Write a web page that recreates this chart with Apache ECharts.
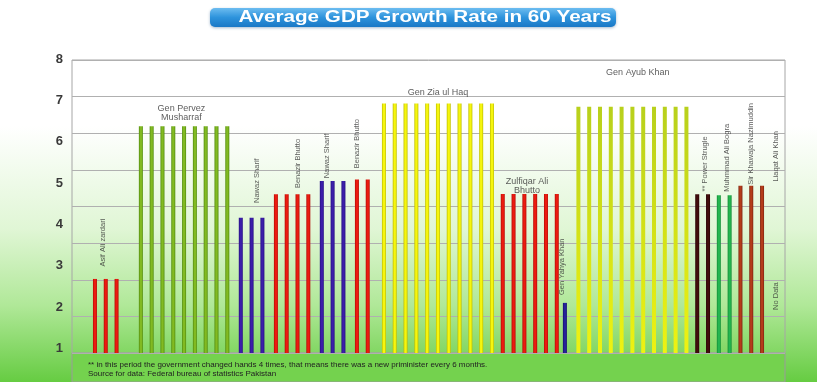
<!DOCTYPE html>
<html><head><meta charset="utf-8">
<script src="https://cdn.jsdelivr.net/npm/echarts@6/dist/echarts.min.js"></script>
<style>html,body{margin:0;padding:0;background:#fff}#c{width:817px;height:382px}</style>
</head><body><div id="c"></div>
<script>
// ---------------- DATA ----------------
const titleText = 'Average GDP Growth Rate in 60 Years';
const yTickLabels = [1, 2, 3, 4, 5, 6, 7, 8];
const leaderNames = ['Asif Ali zardari', 'Gen Pervez\nMusharraf', 'Nawaz Sharif', 'Benazir Bhutto',
  'Nawaz Sharif', 'Benazir Bhutto', 'Gen Zia ul Haq', 'Zulfiqar Ali\nBhutto', 'Gen Yahya Khan',
  'Gen Ayub Khan', '** Power Strugle', 'Muhmmad Ali Bogra', 'Sir Khawaja Nazimuddin', 'Liaqat Ali Khan'];
const zardariGrowth = [2.68, 2.68, 2.68];
const musharrafGrowth = [6.38, 6.38, 6.38, 6.38, 6.38, 6.38, 6.38, 6.38, 6.38];
const nawazSharif1Growth = [4.16, 4.16, 4.16];
const benazirBhutto1Growth = [4.73, 4.73, 4.73, 4.73];
const nawazSharif2Growth = [5.05, 5.05, 5.05];
const benazirBhutto2Growth = [5.09, 5.09];
const ziaGrowth = [6.93, 6.93, 6.93, 6.93, 6.93, 6.93, 6.93, 6.93, 6.93, 6.93, 6.93];
const zulfiqarGrowth = [4.74, 4.74, 4.74, 4.74, 4.74, 4.74];
const yahyaGrowth = [2.10];
const ayubGrowth = [6.85, 6.85, 6.85, 6.85, 6.85, 6.85, 6.85, 6.85, 6.85, 6.85, 6.85];
const powerStruggleGrowth = [4.73, 4.73];
const bograGrowth = [4.71, 4.71];
const nazimuddinGrowth = [4.94, 4.94, 4.94];
const liaqatGrowth = []; // no data
const noDataText = 'No Data';
const footnoteLines = [
  '** in this period the government changed hands 4 times, that means there was a new priminister every 6 months.',
  'Source for data: Federal bureau of statistics Pakistan'
];

// ---------------- LAYOUT ----------------
const PLOT = { left: 72, right: 785, top: 60, bottom: 353 };
const LABEL_AXIS = { top: 59.3, bottom: 348.3 };
const SLOTS = 264;
const FONT = "'Liberation Sans', Arial, sans-serif";

const yMinLab = yTickLabels[0], yMaxLab = yTickLabels[yTickLabels.length - 1];
const pxPerUnit = (LABEL_AXIS.bottom - LABEL_AXIS.top) / (yMaxLab - yMinLab);
const barAxisMin = yMinLab - (PLOT.bottom - LABEL_AXIS.bottom) / pxPerUnit;
const barAxisMax = yMaxLab + (LABEL_AXIS.top - PLOT.top) / pxPerUnit;

function cyl(main, edge) {
  return new echarts.graphic.LinearGradient(0, 0, 1, 0, [
    { offset: 0, color: edge }, { offset: 0.35, color: main },
    { offset: 0.65, color: main }, { offset: 1, color: edge }]);
}
const RED = cyl('#ec1b10', '#b20d06');
const INDIGO = cyl('#3c1eaa', '#241082');
const groupLayout = [
  { values: zardariGrowth, start: 8, fill: RED },
  { values: musharrafGrowth, start: 25, fill: cyl('#82ba22', '#4f8a0c') },
  { values: nawazSharif1Growth, start: 62, fill: INDIGO },
  { values: benazirBhutto1Growth, start: 75, fill: RED },
  { values: nawazSharif2Growth, start: 92, fill: INDIGO },
  { values: benazirBhutto2Growth, start: 105, fill: RED },
  { values: ziaGrowth, start: 115, fill: cyl('#f6f60e', '#bcbc00') },
  { values: zulfiqarGrowth, start: 159, fill: RED },
  { values: yahyaGrowth, start: 182, fill: cyl('#26229a', '#14106a') },
  { values: ayubGrowth, start: 187, fill: new echarts.graphic.LinearGradient(0, 0, 0, 1, [
      { offset: 0, color: '#b8d01c' }, { offset: 1, color: '#eef212' }]) },
  { values: powerStruggleGrowth, start: 231, fill: cyl('#420c0c', '#260404') },
  { values: bograGrowth, start: 239, fill: cyl('#24b650', '#128a34') },
  { values: nazimuddinGrowth, start: 247, fill: cyl('#b43c1a', '#7c2210') }
];
const STEP = 4;

const slotNames = Array.from({ length: SLOTS }, (_, i) => String(i));
const barData = new Array(SLOTS).fill(null);
groupLayout.forEach(g => {
  g.values.forEach((v, j) => {
    barData[g.start + j * STEP] = { value: v, itemStyle: { color: g.fill } };
  });
});

// annotation anchors [slot, value on label scale, rotated]
const annoLayout = [
  [11, 2.98, true], [40, 6.71, false], [68, 4.52, true], [83, 4.88, true],
  [94, 5.12, true], [105, 5.36, true], [135, 7.19, false], [168, 4.93, false],
  [181, 2.29, true], [209, 7.68, false], [234, 4.80, true], [242, 4.79, true],
  [251, 4.96, true], [260, 5.04, true]
];
const annoData = annoLayout.map((a, i) => ({
  value: [a[0], a[1]],
  label: a[2]
    ? { show: true, formatter: leaderNames[i], rotate: 90, align: 'left', verticalAlign: 'middle', fontSize: 7.5 }
    : { show: true, formatter: leaderNames[i], align: 'center', verticalAlign: 'middle', fontSize: 9, lineHeight: 9 }
}));
annoData.push({ value: [260, 1.93], label: { show: true, formatter: noDataText, rotate: 90, align: 'left', verticalAlign: 'middle', fontSize: 7.5 } });

const chart = echarts.init(document.getElementById('c'), null, { renderer: 'canvas', width: 817, height: 382 });
const plotW = PLOT.right - PLOT.left;

chart.setOption({
  animation: false,
  graphic: [
    { type: 'rect', z: -100, shape: { x: 0, y: 0, width: 817, height: 382 },
      style: { fill: new echarts.graphic.LinearGradient(0, 0, 0, 1, [
        { offset: 0, color: '#ffffff' }, { offset: 0.33, color: '#ffffff' },
        { offset: 0.6, color: '#e0f6d5' }, { offset: 0.8, color: '#b0e898' },
        { offset: 1, color: '#66cc42' }]) } },
    { type: 'rect', z: -50, shape: { x: PLOT.left, y: PLOT.bottom, width: plotW, height: 382 - PLOT.bottom },
      style: { fill: '#74d24e', stroke: '#9a9a9a', lineWidth: 1 } },
    { type: 'rect', z: 10, shape: { x: 210, y: 8, width: 406, height: 19, r: 5 },
      style: { fill: new echarts.graphic.LinearGradient(0, 0, 0, 1, [
        { offset: 0, color: '#6cbcf0' }, { offset: 0.5, color: '#2d93dc' }, { offset: 1, color: '#1a78c6' }]),
        shadowColor: 'rgba(0,60,120,0.35)', shadowBlur: 3, shadowOffsetY: 1 } },
    { type: 'text', z: 11, x: 425, y: 18, scaleX: 1.29,
      style: { text: titleText, fill: '#ffffff', font: 'bold 16px ' + FONT, align: 'center', verticalAlign: 'middle' } },
    { type: 'text', z: 11, x: 88, y: 361,
      style: { text: footnoteLines.join('\n'), fill: '#222222', font: '8px ' + FONT, lineHeight: 8.5, verticalAlign: 'top' } }
  ],
  grid: [
    { left: PLOT.left, width: plotW, top: LABEL_AXIS.top, height: LABEL_AXIS.bottom - LABEL_AXIS.top, show: false },
    { left: PLOT.left, width: plotW, top: PLOT.top, height: PLOT.bottom - PLOT.top, show: true,
      borderColor: '#a6a6a6', borderWidth: 1, backgroundColor: 'transparent' }
  ],
  xAxis: [
    { gridIndex: 0, type: 'value', show: false },
    { gridIndex: 1, type: 'category', data: slotNames, show: false }
  ],
  yAxis: [
    { gridIndex: 0, type: 'value', min: yMinLab, max: yMaxLab, interval: 1,
      axisLine: { show: false }, axisTick: { show: false }, splitLine: { show: false },
      axisLabel: { margin: 9, color: '#3a3a3a', fontSize: 13, fontWeight: 'bold', fontFamily: FONT } },
    { gridIndex: 1, type: 'value', min: barAxisMin, max: barAxisMax, show: false },
    { gridIndex: 1, type: 'value', min: 0, max: 8, interval: 1,
      axisLine: { show: false }, axisTick: { show: false }, axisLabel: { show: false },
      splitLine: { show: true, lineStyle: { color: '#b0b0b0', width: 1 } } }
  ],
  series: [
    { type: 'bar', xAxisIndex: 1, yAxisIndex: 1, barWidth: 4, data: barData, silent: true },
    { type: 'scatter', xAxisIndex: 1, yAxisIndex: 1, symbolSize: 1, silent: true, z: 5,
      itemStyle: { color: 'rgba(0,0,0,0)' },
      label: { show: true, position: 'inside', color: '#333333', fontFamily: FONT },
      data: annoData }
  ]
});
</script></body></html>
